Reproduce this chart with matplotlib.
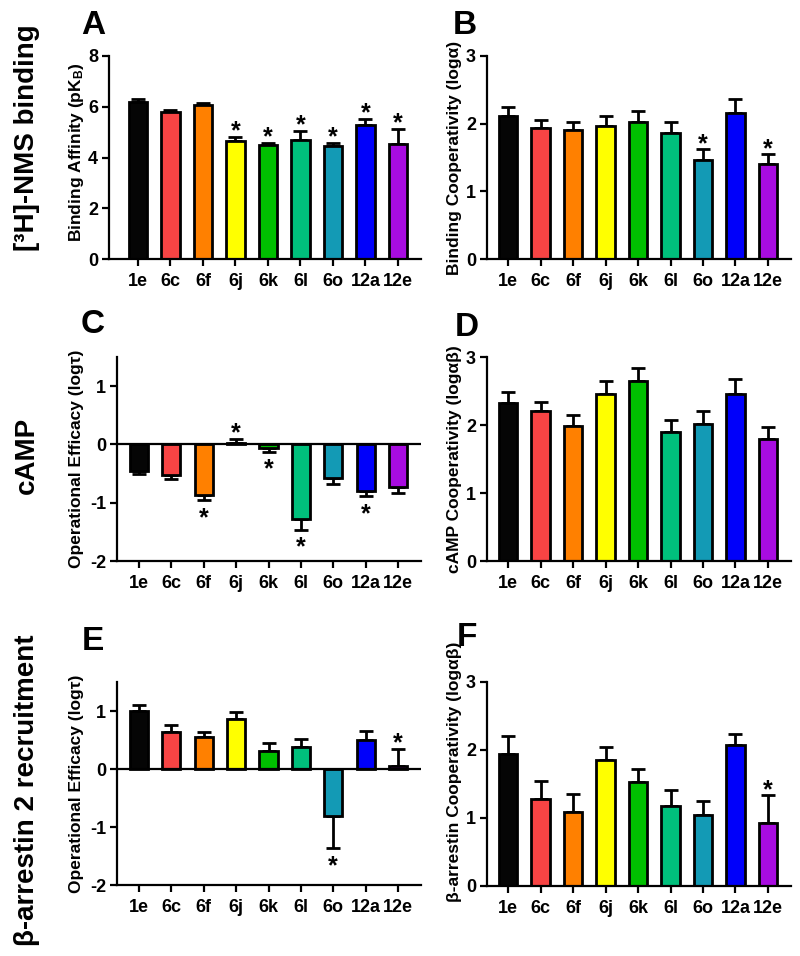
import matplotlib
matplotlib.use("Agg")
import matplotlib.pyplot as plt
import numpy as np

plt.rcParams['font.family'] = ['Liberation Sans', 'DejaVu Sans']
plt.rcParams['font.weight'] = 'bold'
plt.rcParams['mathtext.default'] = 'regular'

compounds = ['1e', '6c', '6f', '6j', '6k', '6l', '6o', '12a', '12e']
colors = ['#050505', '#F84444', '#FF8000', '#FFFF00', '#00C000',
          '#00C07C', '#139AB5', '#0000FA', '#A80CE0']

# Panel A: binding affinity pKB
A_vals = [6.20, 5.81, 6.06, 4.64, 4.51, 4.69, 4.46, 5.30, 4.54]
A_err = [0.12, 0.08, 0.09, 0.18, 0.08, 0.36, 0.13, 0.23, 0.60]
A_sig = [0, 0, 0, 1, 1, 1, 1, 1, 1]
# Panel B: binding cooperativity log alpha
B_vals = [2.11, 1.93, 1.91, 1.97, 2.03, 1.86, 1.46, 2.16, 1.40]
B_err = [0.13, 0.13, 0.12, 0.14, 0.16, 0.16, 0.16, 0.20, 0.15]
B_sig = [0, 0, 0, 0, 0, 0, 1, 0, 1]
# Panel C: cAMP operational efficacy log tau
C_vals = [-0.46, -0.53, -0.86, 0.03, -0.06, -1.28, -0.57, -0.80, -0.73]
C_err = [0.04, 0.06, 0.10, 0.07, 0.07, 0.19, 0.11, 0.09, 0.10]
C_sig = [0, 0, 1, 1, 1, 1, 0, 1, 0]
# Panel D: cAMP cooperativity log alpha-beta
D_vals = [2.33, 2.21, 1.99, 2.45, 2.64, 1.89, 2.01, 2.45, 1.80]
D_err = [0.16, 0.13, 0.16, 0.19, 0.20, 0.19, 0.19, 0.23, 0.17]
D_sig = [0, 0, 0, 0, 0, 0, 0, 0, 0]
# Panel E: beta-arrestin operational efficacy log tau
E_vals = [1.00, 0.64, 0.55, 0.87, 0.31, 0.38, -0.81, 0.50, 0.06]
E_err = [0.11, 0.12, 0.08, 0.12, 0.14, 0.14, 0.56, 0.15, 0.29]
E_sig = [0, 0, 0, 0, 0, 0, 1, 0, 1]
# Panel F: beta-arrestin cooperativity log alpha-beta
F_vals = [1.94, 1.28, 1.09, 1.85, 1.53, 1.17, 1.05, 2.07, 0.93]
F_err = [0.27, 0.26, 0.26, 0.20, 0.19, 0.24, 0.20, 0.17, 0.41]
F_sig = [0, 0, 0, 0, 0, 0, 0, 0, 1]

W, H = 800, 956
fig = plt.figure(figsize=(W / 100, H / 100), dpi=100)


def fx(px):
    return px / W


def fy(py):
    return 1 - py / H


def make_panel(box, vals, errs, sig, ylim, yticks, ylabel, letter, letter_xy,
               xleft, ylabel_x, ylabel_y=None):
    l, t, r, b = box
    ax = fig.add_axes([fx(l), fy(b), fx(r) - fx(l), (b - t) / H])
    x = np.arange(len(compounds))
    vals = np.array(vals)
    errs = np.array(errs)
    lower = np.where(vals < 0, errs, 0)
    upper = np.where(vals >= 0, errs, 0)
    ax.errorbar(x, vals, yerr=[lower, upper], fmt='none', ecolor='black',
                elinewidth=2.0, capsize=5, capthick=2.0, zorder=1)
    ax.bar(x, vals, width=0.56, color=colors, edgecolor='black',
           linewidth=2.0, zorder=2)
    for i, s in enumerate(sig):
        if s:
            if vals[i] >= 0:
                yv = vals[i] + errs[i]
                ax.annotate('*', (x[i], yv), xytext=(0, -5),
                            textcoords='offset points', ha='center',
                            va='bottom', fontsize=18, fontweight='bold')
            else:
                yv = vals[i] - errs[i]
                ax.annotate('*', (x[i], yv), xytext=(0, -4),
                            textcoords='offset points', ha='center',
                            va='top', fontsize=18, fontweight='bold')
    ax.set_xlim(xleft, 8.71)
    ax.set_ylim(*ylim)
    ax.set_yticks(yticks)
    ax.set_yticklabels([str(v) for v in yticks])
    ax.set_xticks(x)
    ax.set_xticklabels(compounds)
    for sp in ['top', 'right']:
        ax.spines[sp].set_visible(False)
    for sp in ['left', 'bottom']:
        ax.spines[sp].set_linewidth(1.6)
    if ylim[0] < 0:
        ax.axhline(0, color='black', linewidth=1.6, zorder=3)
    ax.tick_params(axis='both', width=1.6, length=5, labelsize=13, pad=3)
    ax.tick_params(axis='x', pad=5)
    for lab in ax.get_xticklabels() + ax.get_yticklabels():
        lab.set_fontweight('bold')
    cy = (t + b) / 2 if ylabel_y is None else ylabel_y
    fig.text(fx(ylabel_x), fy(cy), ylabel, rotation=90, ha='center',
             va='center', fontsize=12.5, fontweight='bold')
    fig.text(fx(letter_xy[0]), fy(letter_xy[1]), letter, ha='center',
             va='center', fontsize=24, fontweight='bold')
    return ax


make_panel((109, 56, 421, 259), A_vals, A_err, A_sig, (0, 8), [0, 2, 4, 6, 8],
           'Binding Affinity (pK$_{B}$)', 'A', (93, 25), -0.89, 77, 152)
make_panel((487, 56, 791, 259), B_vals, B_err, B_sig, (0, 3), [0, 1, 2, 3],
           'Binding Cooperativity (logα)', 'B', (465, 25), -0.65, 455)
make_panel((117, 357, 421, 561), C_vals, C_err, C_sig, (-2, 1.5), [-2, -1, 0, 1],
           'Operational Efficacy (logτ)', 'C', (93, 325), -0.68, 77)
make_panel((487, 357, 791, 561), D_vals, D_err, D_sig, (0, 3), [0, 1, 2, 3],
           'cAMP Cooperativity (logαβ)', 'D', (467, 327), -0.65, 455)
make_panel((117, 682, 421, 885), E_vals, E_err, E_sig, (-2, 1.5), [-2, -1, 0, 1],
           'Operational Efficacy (logτ)', 'E', (93, 642), -0.68, 77)
make_panel((487, 682, 791, 886), F_vals, F_err, F_sig, (0, 3), [0, 1, 2, 3],
           'β-arrestin Cooperativity (logαβ)', 'F', (467, 637), -0.65, 455,
           ylabel_y=772)

row_labels = ['[³H]-NMS binding', 'cAMP', 'β-arrestin 2 recruitment']
row_y = [138, 455, 790]
for lab, yy in zip(row_labels, row_y):
    fig.text(fx(27), fy(yy), lab, rotation=90, ha='center', va='center',
             fontsize=20, fontweight='bold')

fig.savefig('out.png', dpi=100)
